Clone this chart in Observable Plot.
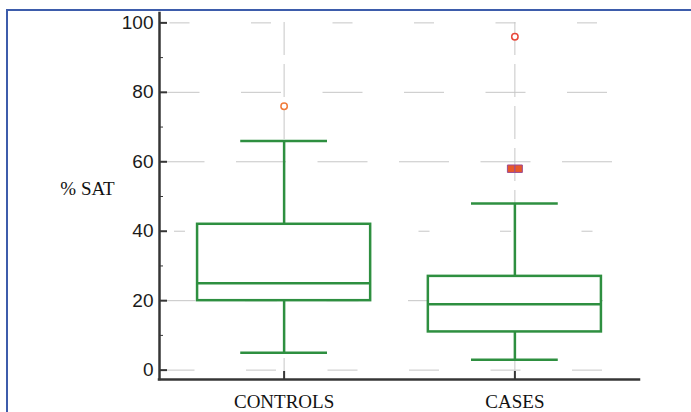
<!DOCTYPE html>
<html><head><meta charset="utf-8">
<script src="https://cdn.jsdelivr.net/npm/d3@7"></script>
<script src="https://cdn.jsdelivr.net/npm/@observablehq/plot@0.6"></script>
<style>
html,body{margin:0;padding:0;background:#fff;overflow:hidden;width:691px;height:412px;}
#wrap{position:relative;width:691px;height:412px;}
#border{position:absolute;left:6px;top:9px;width:760px;height:480px;border:2px solid #3d5cab;box-sizing:border-box;pointer-events:none;z-index:2}
#chart{position:absolute;left:0;top:0;z-index:1}
svg{display:block}
</style></head><body><div id="wrap"><div id="border"></div><div id="chart"></div></div>
<script>
// ---- data ----
const categories = ["CONTROLS", "CASES"];
const whiskerLow = [5, 3];
const q1 = [20, 11];
const median = [25, 19];
const q3 = [42, 27];
const whiskerHigh = [66, 48];
const outsideCat = ["CONTROLS", "CASES"];
const outsideValue = [76, 96];
const farOutCat = ["CASES", "CASES"];
const farOutValue = [58, 58];
const yTicks = [0, 20, 40, 60, 80, 100];
const yMinorTicks = [10, 30, 50, 70, 90];

// ---- rendering ----
const xDomain = [-0.54, 1.54], yDomain = [-2.7, 102.7];
const idx = categories.map((_, i) => i);
const green = "#2e8f40", axisColor = "#363636", gridColor = "#c6c6c6";
const boxHalf = 0.375, capHalf = 0.188, sqOffset = 0.0325;
const gridDash = {0: 30, 20: 32, 40: 11, 60: 50, 80: 40, 100: 20};
const hPeriod = 81.5, hCenter = 20.5;
const outsideColors = ["#f07c3c", "#e8473a"];
const serif = "'Liberation Serif', 'Times New Roman', serif";
const sans = "'Liberation Sans', Arial, sans-serif";
const catIndex = c => categories.indexOf(c);

const plot = Plot.plot({
  width: 691, height: 412,
  marginLeft: 159, marginRight: 52, marginTop: 13, marginBottom: 33,
  x: {type: "linear", domain: xDomain},
  y: {domain: yDomain},
  style: {background: "transparent", fontFamily: sans, fontSize: "19px", color: "#1b1b1b", overflow: "visible"},
  marks: [
    ...yTicks.map(t => Plot.ruleY([t], {
      stroke: gridColor, strokeWidth: 1,
      strokeDasharray: `${gridDash[t]},${hPeriod - gridDash[t]}`,
      strokeDashoffset: gridDash[t] / 2 - hCenter
    })),
    Plot.ruleX(idx, {x: d => d, stroke: gridColor, strokeWidth: 1, strokeDasharray: "33,9", strokeDashoffset: 33}),
    // whiskers
    Plot.ruleX(idx, {x: d => d, y1: i => q3[i], y2: i => whiskerHigh[i], stroke: green, strokeWidth: 2.5}),
    Plot.ruleX(idx, {x: d => d, y1: i => whiskerLow[i], y2: i => q1[i], stroke: green, strokeWidth: 2.5}),
    Plot.ruleY(idx, {y: i => whiskerHigh[i], x1: i => i - capHalf, x2: i => i + capHalf, stroke: green, strokeWidth: 2.5}),
    Plot.ruleY(idx, {y: i => whiskerLow[i], x1: i => i - capHalf, x2: i => i + capHalf, stroke: green, strokeWidth: 2.5}),
    // boxes
    Plot.rect(idx, {x1: i => i - boxHalf, x2: i => i + boxHalf, y1: i => q1[i], y2: i => q3[i], fill: "white", stroke: green, strokeWidth: 2.5}),
    Plot.ruleY(idx, {y: i => median[i], x1: i => i - boxHalf, x2: i => i + boxHalf, stroke: green, strokeWidth: 2.5}),
    // outliers
    Plot.dot(outsideValue, {x: (d, i) => catIndex(outsideCat[i]), y: d => d, r: 3.2, fill: "white",
      stroke: (d, i) => outsideColors[i], strokeWidth: 1.5}),
    Plot.dot(farOutValue, {x: (d, i) => catIndex(farOutCat[i]) + (i - (farOutValue.length - 1) / 2) * sqOffset,
      y: d => d, symbol: "square", r: 4.2, fill: "#e8582a", stroke: "#9a4c94", strokeWidth: 1}),
    // axis lines
    Plot.ruleX([xDomain[0]], {stroke: axisColor, strokeWidth: 2.5, strokeLinecap: "square"}),
    Plot.ruleY([yDomain[0]], {stroke: axisColor, strokeWidth: 2.5, strokeLinecap: "square"}),
    // y axis
    Plot.axisY({ticks: yTicks, tickSize: -8, tickFormat: () => "", stroke: axisColor, strokeWidth: 2, label: null}),
    Plot.axisY({ticks: yMinorTicks, tickSize: -4, tickFormat: () => "", stroke: axisColor, strokeWidth: 1, label: null}),
    Plot.axisY({ticks: yTicks, tickSize: 0, tickPadding: 6, label: null, fontFamily: sans, fontSize: 19, fill: "#1b1b1b"}),
    // x axis
    Plot.axisX({ticks: idx, tickSize: -8, tickFormat: () => "", stroke: axisColor, strokeWidth: 2, label: null}),
    Plot.axisX({ticks: idx, tickSize: 0, tickPadding: 15, tickFormat: i => categories[i], label: null,
      fontFamily: serif, fontSize: 19, fill: "#111"}),
    // y label
    Plot.text(["% SAT"], {text: d => d, frameAnchor: "left", dx: -72, dy: -8, textAnchor: "middle",
      fontFamily: serif, fontSize: 19, fill: "#111"})
  ]
});
document.getElementById("chart").appendChild(plot);
</script></body></html>
